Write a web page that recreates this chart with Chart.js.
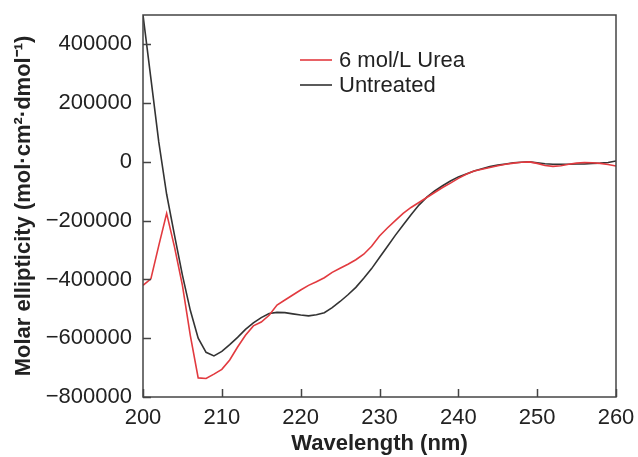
<!DOCTYPE html>
<html>
<head>
<meta charset="utf-8">
<script src="https://cdn.jsdelivr.net/npm/chart.js@4"></script>
<style>
  html, body { margin: 0; padding: 0; background: #fff; }
  #wrap { width: 638px; height: 457px; }
</style>
</head>
<body>
<div id="wrap"><canvas id="cd"></canvas></div>
<script>
// wavelength (nm)
const wavelengths = [200, 201, 202, 203, 204, 205, 206, 207, 208, 209,
  210, 211, 212, 213, 214, 215, 216, 217, 218, 219,
  220, 221, 222, 223, 224, 225, 226, 227, 228, 229,
  230, 231, 232, 233, 234, 235, 236, 237, 238, 239,
  240, 241, 242, 243, 244, 245, 246, 247, 248, 249,
  250, 251, 252, 253, 254, 255, 256, 257, 258, 259, 260];

// molar ellipticity, 6 mol/L urea
const urea = [-420000, -398000, -285000, -175000, -290000, -420000, -590000, -735000, -737000, -722000,
  -706000, -674000, -630000, -590000, -558000, -545000, -522000, -487000, -470000, -453000,
  -436000, -420000, -408000, -394000, -376000, -362000, -348000, -333000, -314000, -287000,
  -252000, -225000, -200000, -175000, -155000, -138000, -121000, -104000, -87000, -72000,
  -56000, -42000, -31000, -25000, -19000, -13000, -8000, -4000, -1000, 0,
  -5000, -12000, -15000, -13000, -8000, -4000, -2000, -3000, -5000, -9000, -14000];

// molar ellipticity, untreated
const untreated = [500000, 284000, 68000, -110000, -250000, -385000, -505000, -600000, -648000, -660000,
  -645000, -622000, -597000, -570000, -548000, -530000, -516000, -512000, -513000, -517000,
  -521000, -524000, -520000, -513000, -496000, -475000, -452000, -427000, -396000, -363000,
  -325000, -288000, -250000, -215000, -180000, -147000, -120000, -99000, -81000, -65000,
  -51000, -41000, -31000, -23000, -16000, -11000, -7000, -3000, -1000, 0,
  -3000, -6000, -8000, -8000, -8000, -7000, -7000, -5000, -4000, -2000, 3000];

const yTicks = [-800000, -600000, -400000, -200000, 0, 200000, 400000];
const xTicks = [200, 210, 220, 230, 240, 250, 260];

const FONT = '"Liberation Sans", Arial, Helvetica, sans-serif';
const INK = '#222';
const RED = '#e23a3f';
const DARK = '#333';

function pts(ys){
    return wavelengths.map((x, i) => ({x: x, y: ys[i]}));
}

// frame, inward ticks and legend
const decor = {
    id: 'decor',
    afterDraw(chart){
        const ctx = chart.ctx;
        const a = chart.chartArea;
        const xs = chart.scales.x, ys = chart.scales.y;
        ctx.save();
        ctx.strokeStyle = '#444';
        ctx.lineWidth = 1.5;
        ctx.strokeRect(a.left, a.top, a.right - a.left, a.bottom - a.top);
        ctx.beginPath();
        yTicks.forEach(v => {
            const y = Math.round(ys.getPixelForValue(v)) + 0.5;
            ctx.moveTo(a.left, y);
            ctx.lineTo(a.left + 8, y);
        });
        xTicks.forEach(v => {
            const x = Math.round(xs.getPixelForValue(v)) + 0.5;
            ctx.moveTo(x, a.bottom);
            ctx.lineTo(x, a.bottom - 8);
        });
        ctx.stroke();

        //legend
        const items = [['6 mol/L Urea', RED, 60], ['Untreated', DARK, 85]];
        ctx.font = '22px ' + FONT;
        ctx.textBaseline = 'middle';
        ctx.fillStyle = INK;
        items.forEach(it => {
            ctx.strokeStyle = it[1];
            ctx.lineWidth = 1.6;
            ctx.beginPath();
            ctx.moveTo(300, it[2]);
            ctx.lineTo(332, it[2]);
            ctx.stroke();
            ctx.fillText(it[0], 339, it[2] + 1);
        });
        ctx.restore();
    }
};

new Chart(document.getElementById('cd'), {
    type: 'line',
    data: {
        datasets: [
            {
                label: '6 mol/L Urea',
                data: pts(urea),
                borderColor: RED,
                borderWidth: 1.6,
                pointRadius: 0,
                tension: 0
            },
            {
                label: 'Untreated',
                data: pts(untreated),
                borderColor: DARK,
                borderWidth: 1.6,
                pointRadius: 0,
                tension: 0
            }
        ]
    },
    options: {
        responsive: true,
        maintainAspectRatio: false,
        animation: false,
        layout: {padding: {left: 0, top: 15, right: 22, bottom: 0}},
        plugins: {legend: {display: false}, tooltip: {enabled: false}},
        scales: {
            x: {
                type: 'linear',
                min: 200,
                max: 260,
                afterFit: s => { s.height = 60; s.paddingLeft = 0; s.paddingRight = 0; },
                afterBuildTicks: s => { s.ticks = xTicks.map(v => ({value: v})); },
                grid: {display: false, drawTicks: false},
                border: {display: false},
                ticks: {color: INK, font: {family: FONT, size: 22}, padding: 8, maxRotation: 0},
                title: {display: true, text: 'Wavelength (nm)', color: INK,
                    font: {family: FONT, size: 22, weight: 'bold'}, padding: {top: 0, bottom: 0}}
            },
            y: {
                min: -800000,
                max: 500000,
                afterFit: s => { s.width = 143; s.paddingTop = 0; s.paddingBottom = 0; },
                afterBuildTicks: s => { s.ticks = yTicks.map(v => ({value: v})); },
                grid: {display: false, drawTicks: false},
                border: {display: false},
                ticks: {color: INK, font: {family: FONT, size: 22}, padding: 11,
                    callback: v => String(v).replace('-', '\u2212')},
                title: {display: true, text: 'Molar ellipticity (mol·cm²·dmol⁻¹)', color: INK,
                    font: {family: FONT, size: 22, weight: 'bold'}, padding: {top: 11, bottom: 0}}
            }
        }
    },
    plugins: [decor]
});
</script>
</body>
</html>
